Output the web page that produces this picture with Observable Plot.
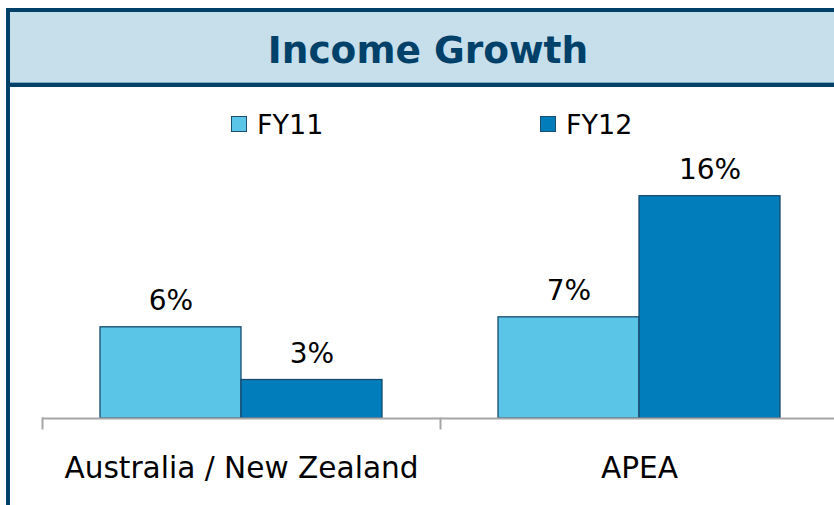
<!DOCTYPE html>
<html><head><meta charset="utf-8">
<script src="https://cdn.jsdelivr.net/npm/d3@7"></script>
<script src="https://cdn.jsdelivr.net/npm/@observablehq/plot@0.6"></script>
<style>
html,body{margin:0;padding:0;background:#fff;overflow:hidden;}
body{width:834px;height:505px;position:relative;font-family:"DejaVu Sans",Verdana,sans-serif;}
#chart{position:absolute;left:0;top:0;}
#frame{position:absolute;left:6px;top:8px;width:900px;height:600px;border-left:4px solid #00416A;border-top:4px solid #00416A;box-sizing:border-box;}
#titlebar{position:absolute;left:10px;top:12px;width:836px;height:70px;background:#C6DFEB;border-bottom:1px solid #7FA8C2;}
#titleline{position:absolute;left:10px;top:83px;width:836px;height:4px;background:#00416A;}
#title{position:absolute;left:10px;width:836px;top:32px;text-align:center;font-weight:bold;font-size:37.5px;line-height:37px;color:#00416A;white-space:nowrap;}
.leg{position:absolute;font-size:27px;line-height:27px;color:#000;white-space:nowrap;}
.sw{position:absolute;width:14px;height:14px;border:1.5px solid #1B4F72;}
</style></head><body>
<div id="chart"></div>
<div id="frame"></div>
<div id="titlebar"></div>
<div id="titleline"></div>
<div id="title"></div>
<div id="legend"></div>
<script>
// ---- data ----
const chartTitle = "Income Growth";
const categories = ["Australia / New Zealand", "APEA"];
const seriesNames = ["FY11", "FY12"];
const fy11Values = [6.4, 7.1];
const fy12Values = [2.7, 15.6];
const seriesColors = ["#5BC5E8", "#027DBB"];

// ---- table built from the arrays ----
const table = categories.flatMap((c, i) => [
  {category: c, series: seriesNames[0], value: fy11Values[i]},
  {category: c, series: seriesNames[1], value: fy12Values[i]}
]);

document.getElementById("title").textContent = chartTitle;

// legend
const legendPos = [{sw: 231, tx: 257}, {sw: 540, tx: 566}];
const legend = document.getElementById("legend");
seriesNames.forEach((s, i) => {
  const sw = document.createElement("div");
  sw.className = "sw";
  sw.style.left = legendPos[i].sw + "px";
  sw.style.top = "116px";
  sw.style.background = seriesColors[i];
  legend.appendChild(sw);
  const t = document.createElement("div");
  t.className = "leg";
  t.style.left = legendPos[i].tx + "px";
  t.style.top = "111px";
  t.textContent = s;
  legend.appendChild(t);
});

const chart = Plot.plot({
  width: 834,
  height: 505,
  marginTop: 418,
  marginBottom: 77,
  marginLeft: 42,
  marginRight: -4,
  fx: {domain: categories, padding: 0, label: null},
  x: {domain: seriesNames, paddingInner: 0, paddingOuter: 0.406, axis: null},
  y: {domain: [0, 16], range: [418, 190], axis: null},
  color: {domain: seriesNames, range: seriesColors},
  style: {fontFamily: "'DejaVu Sans', Verdana, sans-serif", background: "transparent", color: "#000"},
  marks: [
    Plot.barY(table, {fx: "category", x: "series", y: "value", fill: "series", stroke: "#164A6E", strokeWidth: 1.3}),
    Plot.text(table, {fx: "category", x: "series", y: "value", text: d => Math.round(d.value) + "%", lineAnchor: "bottom", dy: -17, fontSize: 28, fill: "#000"}),
    Plot.ruleY([0], {stroke: "#A6A6A6", strokeWidth: 2}),
    Plot.frame({anchor: "left", stroke: "#A6A6A6", strokeWidth: 2}),
    Plot.axisFx({anchor: "bottom", tickSize: 0, tickPadding: 28, fontSize: 29.6, label: null})
  ]
});
document.getElementById("chart").appendChild(chart);
</script>
</body></html>
